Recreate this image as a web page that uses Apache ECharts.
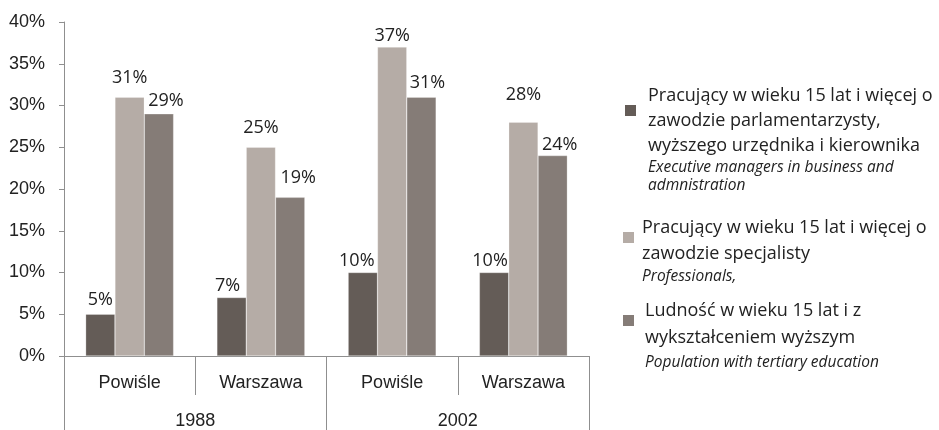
<!DOCTYPE html>
<html>
<head>
<meta charset="utf-8">
<script src="https://cdn.jsdelivr.net/npm/echarts@6/dist/echarts.min.js"></script>
<style>
  html, body { margin: 0; padding: 0; background: #fff; }
  #main { width: 939px; height: 430px; }
</style>
</head>
<body>
<div id="main"></div>
<script>
// dane z wykresu
var places = ['Powiśle', 'Warszawa', 'Powiśle', 'Warszawa'];
var years = ['1988', '2002'];
var managers = [5, 7, 10, 10];
var professionals = [31, 25, 37, 28];
var tertiary = [29, 19, 31, 24];
var colors = ['#645c57', '#b5aca6', '#857c77'];

var legendPl = [
    ['Pracujący w wieku 15 lat i więcej o', 'zawodzie parlamentarzysty,', 'wyższego urzędnika i kierownika'],
    ['Pracujący w wieku 15 lat i więcej o', 'zawodzie specjalisty'],
    ['Ludność w wieku 15 lat i z', 'wykształceniem wyższym']
];
var legendEn = [
    ['Executive managers in business and', 'admnistration'],
    ['Professionals,'],
    ['Population with tertiary education']
];

var axisColor = '#8f8f8f';
var textColor = '#222';

// przesuniecia etykiet (jak w excelu, zeby sie nie nachodzily)
var labelShift = [
    [[0, 1], [-4, 3], [-6, 3], [-4, 3]],
    [[0, -4], [0, -4], [0, 4], [0, -12]],
    [[7, 2], [8, -4], [6, 1], [7, 4]]
];

function barSeries(name, data, color, shift) {
    return {
        name: name,
        type: 'bar',
        data: data.map(function (v, i) {
            return { value: v, label: { offset: shift[i] } };
        }),
        barGap: '0%',
        barCategoryGap: '33%',
        itemStyle: { color: color, borderColor: 'rgba(255,255,255,0.5)', borderWidth: 0.5 },
        label: {
            show: true,
            position: 'top',
            distance: 6,
            formatter: '{c}%',
            fontFamily: 'Open Sans',
            fontSize: 18,
            color: textColor
        }
    };
}

var myChart = echarts.init(document.getElementById('main'));

// legenda rysowana recznie
var markerTop = [105, 232, 315];
var markerLeft = [625, 623, 623];
var textLeft = [648, 642, 645];
var plY = [[96, 121, 146], [228, 253.5], [311, 338]];
var enY = [[168, 186], [277], [363]];
var graphics = [];
for (var i = 0; i < 3; i++) {
    graphics.push({
        type: 'rect',
        x: markerLeft[i], y: markerTop[i],
        shape: { width: 11, height: 11 },
        style: { fill: colors[i] }
    });
    legendPl[i].forEach(function (t, j) {
        graphics.push({
            type: 'text', x: textLeft[i], y: plY[i][j],
            style: { text: t, fontFamily: 'Open Sans', fontSize: 18, fill: textColor, verticalAlign: 'middle' }
        });
    });
    legendEn[i].forEach(function (t, j) {
        graphics.push({
            type: 'text', x: textLeft[i], y: enY[i][j],
            style: { text: t, fontFamily: 'Open Sans', fontStyle: 'italic', fontSize: 15.5, fill: textColor, verticalAlign: 'middle' }
        });
    });
}

myChart.setOption({
    animation: false,
    grid: { left: 64, right: 350, top: 22, bottom: 73 },
    xAxis: [
        {
            type: 'category',
            data: places,
            axisLine: { lineStyle: { color: axisColor } },
            axisTick: { show: true, interval: 0, length: 39, lineStyle: { color: axisColor } },
            axisLabel: { interval: 0, margin: 18, fontFamily: 'Liberation Sans', fontSize: 18, color: textColor }
        },
        {
            type: 'category',
            position: 'bottom',
            data: years,
            axisLine: { show: false },
            axisTick: { show: true, interval: 0, length: 75, lineStyle: { color: axisColor } },
            axisLabel: { interval: 0, margin: 56, fontFamily: 'Liberation Sans', fontSize: 18, color: textColor }
        }
    ],
    yAxis: {
        type: 'value',
        min: 0,
        max: 40,
        interval: 5,
        splitLine: { show: false },
        axisLine: { show: true, lineStyle: { color: axisColor } },
        axisTick: { show: true, length: 5, lineStyle: { color: axisColor } },
        axisLabel: { formatter: '{value}%', margin: 19, fontFamily: 'Liberation Sans', fontSize: 18, color: textColor }
    },
    series: [
        barSeries('managers', managers, colors[0], labelShift[0]),
        barSeries('professionals', professionals, colors[1], labelShift[1]),
        barSeries('tertiary', tertiary, colors[2], labelShift[2])
    ],
    graphic: graphics
});
</script>
</body>
</html>
